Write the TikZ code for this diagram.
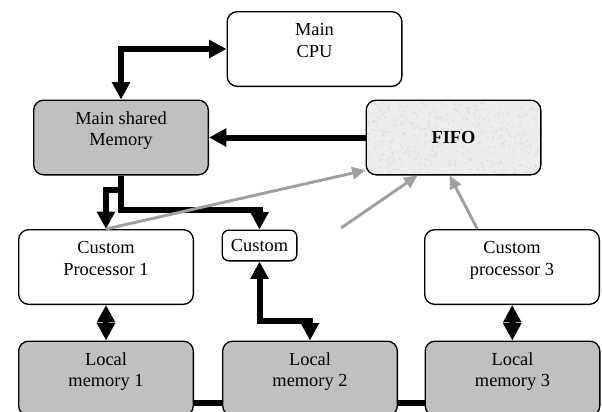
\documentclass[tikz,border=0pt]{standalone}
\usepackage{fontspec}
\setmainfont{Liberation Serif}
\usetikzlibrary{arrows.meta}
\tikzset{>={Triangle[width=13pt,length=13pt]}}
\definecolor{memgray}{HTML}{C0C0C0}
\definecolor{fifogray}{HTML}{EDEDED}
\definecolor{linkgray}{HTML}{A0A0A0}
\tikzset{
  unit/.style={draw, line width=1pt, rounded corners=7.5pt, align=center,
    minimum width=131pt, minimum height=56pt, inner sep=2pt,
    font=\fontsize{13.8}{16.3}\selectfont},
  mem/.style={unit, fill=memgray},
  fifo/.style={unit, fill=fifogray, font=\fontsize{13.8}{16.3}\selectfont\bfseries,
    path picture={
      \foreach \k in {1,...,450}
        \fill[gray!30, opacity=0.6] ([shift={(rand*66pt,rand*29pt)}]path picture bounding box.center)
          circle (0.9pt);}},
  bus/.style={line width=4.5pt},
  feed/.style={line width=2.2pt, color=linkgray, -{Triangle[width=9pt,length=10pt]}}
}

\begin{document}
\begin{tikzpicture}[x=0.75pt, y=-0.75pt]
\useasboundingbox (0,0) rectangle (602,411);
\clip (0,0) rectangle (602,411);

\node[unit] (cpu) at (314.5,49) {Main\\CPU\\[-3pt]~};
\node[mem] (shm) at (121,137.5) {Main shared\\Memory\\[-3pt]~};
\node[fifo] (fifo) at (453.5,137.5) {FIFO};

\node[unit] (cp1) at (106,267) {Custom\\Processor 1\\[-3pt]~};
\node[unit, rounded corners=5pt, minimum width=56pt, minimum height=23pt] (cst) at (259.5,245.5) {Custom};
\node[unit] (cp3) at (512,267) {Custom\\processor 3\\[-3pt]~};

\node[mem] (lm1) at (106,378.5) {Local\\memory 1\\[-3pt]~};
\node[mem] (lm2) at (310,378.5) {Local\\memory 2\\[-3pt]~};
\node[mem] (lm3) at (512.5,378.5) {Local\\memory 3\\[-3pt]~};

% main memory links
\draw[bus, <->] (cpu.west) -| (shm.north);
\draw[bus, ->] (fifo.west) -- (shm.east);
\draw[bus, ->] (shm.south) -- ++(0,34) -| (cst.north);
\draw[bus, ->] (shm.south) ++(0,14) -| (cp1.north);

% processors to local memories
\draw[bus, <->] (cst.south) -- ++(0,59) -| (lm2.north);
\draw[bus, <->] (cp1) -- (lm1);
\draw[bus, <->] (cp3) -- (lm3);
\draw[bus] ([yshift=-18pt]lm1.east) -- ([yshift=-18pt]lm2.west);
\draw[bus] ([yshift=-18pt]lm2.east) -- ([yshift=-18pt]lm3.west);

% feeds into the FIFO
\coordinate (loose) at (341,228);
\draw[feed] (cp1.north) -- ([yshift=4pt]fifo.south west);
\draw[feed] (loose) -- ([xshift=-27pt]fifo.south);
\draw[feed] ([xshift=40pt]cp3.north west) -- ([xshift=-3pt]fifo.south);
\end{tikzpicture}
\end{document}
